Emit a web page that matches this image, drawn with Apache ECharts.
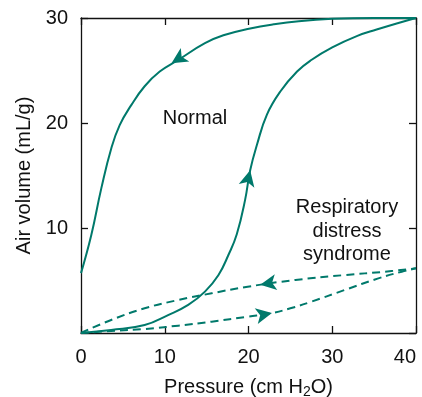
<!DOCTYPE html>
<html>
<head>
<meta charset="utf-8">
<script src="https://cdn.jsdelivr.net/npm/echarts@6/dist/echarts.min.js"></script>
<style>
html,body{margin:0;padding:0;background:#fff;}
#chart{width:422px;height:397px;}
</style>
</head>
<body>
<div id="chart"></div>
<script>
// Data (x = pressure cm H2O, y = air volume mL/g)
var xTicks = [0, 10, 20, 30, 40];
var yTicks = [0, 10, 20, 30];
var normalInflation = [[0,0],[3.6,0.29],[7.6,0.76],[10.4,1.71],[12.8,2.67],[14.8,3.94],[16.4,5.5],[17.6,7.43],[18.6,9.4],[19.6,12.7],[20.2,15.5],[21,17.9],[22.2,20.8],[23.8,23.0],[25.8,24.9],[27.5,26.0],[30,27.2],[33,28.3],[35.3,28.9],[38,29.55],[40,30]];
var normalDeflation = [[0,5.7],[1.23,9.33],[2.43,13.8],[3.62,17.6],[4.62,19.8],[6.0,21.7],[7.6,23.5],[9.4,24.9],[11.6,26.0],[14.8,27.6],[17,28.35],[20.2,29.0],[23,29.4],[26,29.7],[30,29.92],[35,30],[40,30]];
var rdsDeflation = [[0,0],[3.6,1.24],[7.6,2.35],[11.6,3.14],[15.6,3.78],[19.9,4.41],[25.6,5.05],[31.5,5.52],[36.3,5.84],[40,6.16]];
var rdsInflation = [[0,0],[3.6,0.19],[7.6,0.38],[11.6,0.70],[15.6,1.08],[19.9,1.56],[22.8,1.9],[25,2.35],[27.5,2.98],[31.5,4.1],[35.5,5.2],[38.3,5.84],[40,6.16]];
// arrow positions [x, y, rotation]
var arrowNormalUp = [20.2, 15.5, -13];
var arrowNormalDown = [10.8, 25.7, 122];
var arrowRdsDown = [21.4, 4.6, 99];
var arrowRdsUp = [22.8, 1.9, -79];

var teal = '#00796b';
var font = 'Liberation Sans, Arial, Helvetica, sans-serif';
var fs = 20;

function arrow(a) {
  return {
    symbol: 'arrow', symbolSize: [12, 16],
    silent: true,
    label: {show: false},
    itemStyle: {color: teal},
    data: [{coord: [a[0], a[1]], symbolRotate: a[2]}]
  };
}

function series(data, dashed, a) {
  return {
    type: 'line', data: data, smooth: 0.45,
    showSymbol: false, symbol: 'none', silent: true,
    lineStyle: {color: teal, width: 2, type: dashed ? [8, 5] : 'solid'},
    markPoint: arrow(a),
    animation: false
  };
}

var axisLineStyle = {color: '#111', width: 1.3};

var chart = echarts.init(document.getElementById('chart'));
chart.setOption({
  animation: false,
  grid: {left: 81, top: 18, right: 6, bottom: 64, show: false, outerBoundsMode: 'none', containLabel: false},
  xAxis: [{
    type: 'value', min: xTicks[0], max: xTicks[xTicks.length-1], interval: 10,
    name: 'Pressure (cm H{sub|2}O)', nameLocation: 'middle', nameGap: 42,
    nameTextStyle: {fontFamily: font, fontSize: fs, color: '#111',
      rich: {sub: {fontFamily: font, fontSize: 14, color: '#111', padding: [10, 0, 0, 0]}}},
    axisLine: {show: true, onZero: false, lineStyle: axisLineStyle},
    axisTick: {show: true, inside: true, length: 7, lineStyle: axisLineStyle},
    axisLabel: {fontFamily: font, fontSize: fs, color: '#111', margin: 14, alignMaxLabel: 'right'},
    splitLine: {show: false}
  }, {
    type: 'value', position: 'top', min: xTicks[0], max: xTicks[xTicks.length-1], interval: 10,
    axisLine: {show: true, onZero: false, lineStyle: axisLineStyle},
    axisTick: {show: true, inside: true, length: 7, lineStyle: axisLineStyle},
    axisLabel: {show: false}, splitLine: {show: false}
  }],
  yAxis: [{
    type: 'value', min: yTicks[0], max: yTicks[yTicks.length-1], interval: 10,
    name: 'Air volume (mL/g)', nameLocation: 'middle', nameGap: 46, nameRotate: 90,
    nameTextStyle: {fontFamily: font, fontSize: fs, color: '#111'},
    axisLine: {show: true, onZero: false, lineStyle: axisLineStyle},
    axisTick: {show: true, inside: true, length: 7, lineStyle: axisLineStyle},
    axisLabel: {fontFamily: font, fontSize: fs, color: '#111', margin: 13, showMinLabel: false},
    splitLine: {show: false}
  }, {
    type: 'value', position: 'right', min: yTicks[0], max: yTicks[yTicks.length-1], interval: 10,
    axisLine: {show: true, onZero: false, lineStyle: axisLineStyle},
    axisTick: {show: true, inside: true, length: 7, lineStyle: axisLineStyle},
    axisLabel: {show: false}, splitLine: {show: false}
  }],
  graphic: [
    {type: 'text', x: 195, y: 118, style: {text: 'Normal', font: fs + 'px ' + font, fill: '#111', textAlign: 'center', textVerticalAlign: 'middle'}},
    {type: 'text', x: 347, y: 231, style: {text: 'Respiratory\ndistress\nsyndrome', font: fs + 'px ' + font, fill: '#111', textAlign: 'center', textVerticalAlign: 'middle', lineHeight: 23.5}}
  ],
  series: [
    series(normalInflation, false, arrowNormalUp),
    series(normalDeflation, false, arrowNormalDown),
    series(rdsDeflation, true, arrowRdsDown),
    series(rdsInflation, true, arrowRdsUp)
  ]
});
</script>
</body>
</html>
